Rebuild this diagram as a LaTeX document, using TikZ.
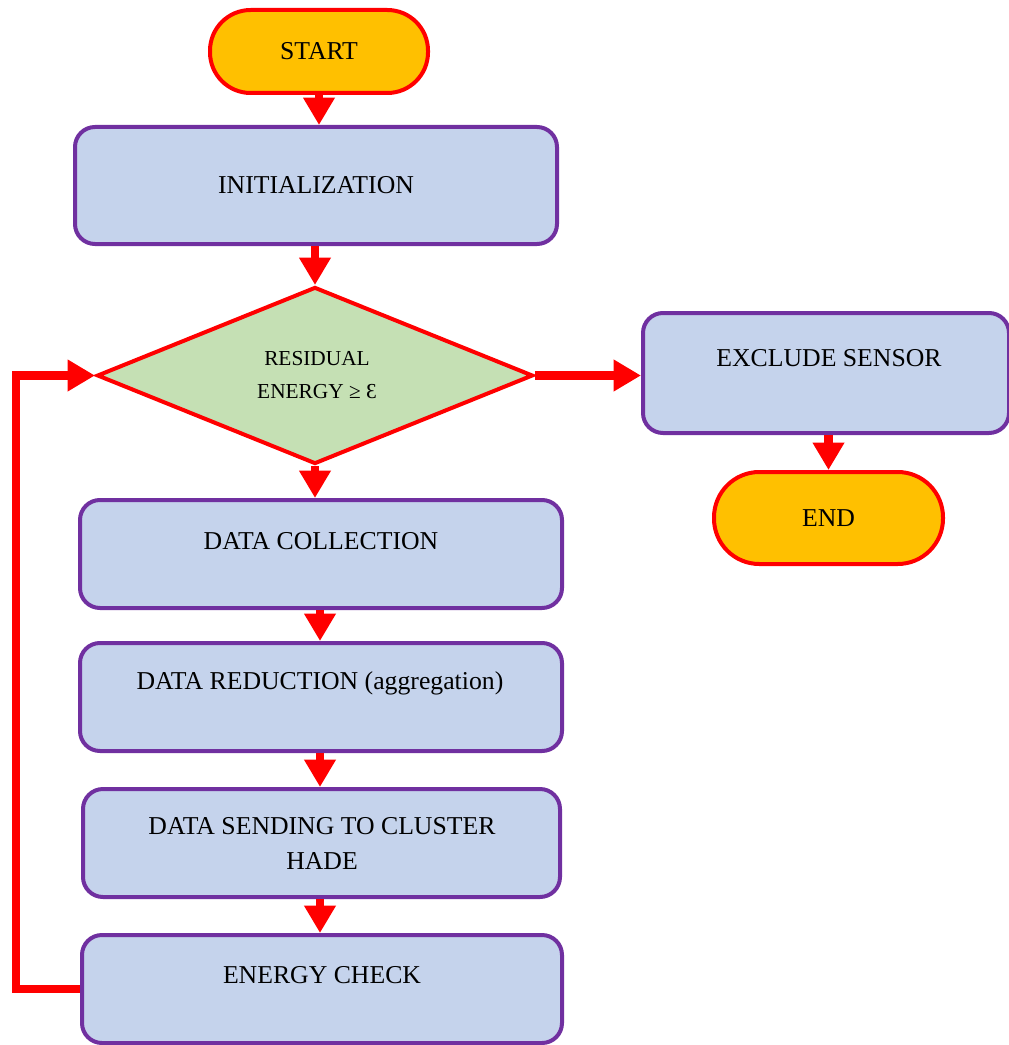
\documentclass[tikz,border=0pt]{standalone}
\usepackage{fontspec}
\setmainfont{Liberation Serif}
\usetikzlibrary{shapes.geometric,arrows.meta}
\definecolor{boxfill}{RGB}{197,211,236}
\definecolor{boxborder}{RGB}{112,48,160}
\definecolor{termfill}{RGB}{255,192,0}
\definecolor{decfill}{RGB}{197,224,180}
\definecolor{flowred}{RGB}{255,0,0}
\begin{document}
\begin{tikzpicture}[x=0.75pt,y=-0.75pt,
  proc/.style={draw=boxborder,line width=3pt,fill=boxfill,rounded corners=15pt,inner sep=0pt},
  term/.style={draw=flowred,line width=3pt,fill=termfill,inner sep=0pt},
  flow/.style={draw=flowred,line width=6.5pt,line join=miter,-{Triangle[width=22.5pt,length=20.5pt]}},
  lbl/.style={font=\fontsize{19.3}{26}\selectfont,inner sep=0pt},
  dlbl/.style={font=\fontsize{16}{25}\selectfont,inner sep=0pt,align=center}
]
\useasboundingbox (0,0) rectangle (1009,1045);
\fill[white] (0,0) rectangle (1009,1045);

% nodes
\node[term,rounded corners=30.5pt,minimum width=218*0.75pt,minimum height=83*0.75pt,font=\fontsize{19.3}{26}\selectfont] (start) at (319,51.5) {START};
\node[proc,minimum width=482*0.75pt,minimum height=117*0.75pt,font=\fontsize{19.3}{26}\selectfont] (init) at (316,185.5) {INITIALIZATION};
\node[diamond,draw=flowred,line width=3pt,fill=decfill,inner sep=0pt,minimum width=436*0.75pt,minimum height=177*0.75pt] (dia) at (315,375.5) {};
\node[dlbl] (tdia) at (317,375) {RESIDUAL\\ENERGY ≥ Ɛ};
\node[proc,minimum width=366*0.75pt,minimum height=120*0.75pt] (ex) at (826,373) {};
\node[lbl,anchor=base] (tex) at (829,366) {EXCLUDE SENSOR};
\node[term,rounded corners=34pt,minimum width=229*0.75pt,minimum height=92*0.75pt,font=\fontsize{19.3}{26}\selectfont] (end) at (828.5,518) {END};
\node[proc,minimum width=482*0.75pt,minimum height=108*0.75pt] (dc) at (321,554) {};
\node[lbl,anchor=base] (tdc) at (321,549) {DATA COLLECTION};
\node[proc,minimum width=482*0.75pt,minimum height=108*0.75pt] (dr) at (321,697) {};
\node[lbl,anchor=base] (tdr) at (320,689) {DATA REDUCTION (aggregation)};
\node[proc,minimum width=477*0.75pt,minimum height=108*0.75pt] (ds) at (321.5,843) {};
\node[lbl,align=center] (tds) at (322,843.5) {DATA SENDING TO CLUSTER\\HADE};
\node[proc,minimum width=480*0.75pt,minimum height=108*0.75pt] (ec) at (322,989) {};
\node[lbl,anchor=base] (tec) at (322,983) {ENERGY CHECK};

% connectors
\coordinate (ax) at (320,0);
\draw[flow] (start.south) -- (start.south |- init.north);
\draw[flow] (init.south -| dia.north) -- (dia.north);
\draw[flow] (dia.east) -- (dia.east -| ex.west);
\draw[flow] (end.north |- ex.south) -- (end.north);
\draw[flow] (dia.south) -- (dia.south |- dc.north);
\draw[flow] (ax |- dc.south) -- (ax |- dr.north);
\draw[flow] (ax |- dr.south) -- (ax |- ds.north);
\draw[flow] (ax |- ds.south) -- (ax |- ec.north);
\draw[flow] (ec.west) -- ++(-64,0) |- (dia.west);
\end{tikzpicture}
\end{document}
